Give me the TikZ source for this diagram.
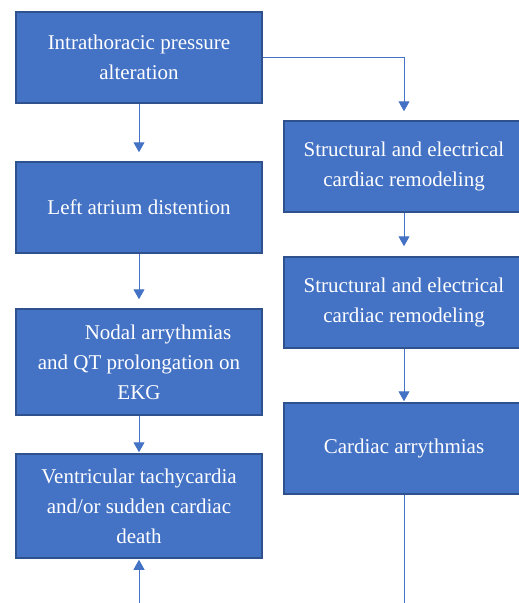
\documentclass[tikz,border=0pt]{standalone}
\usepackage{fontspec}
\setmainfont{Liberation Serif}
\usetikzlibrary{arrows.meta}
\definecolor{boxblue}{HTML}{4472C4}
\definecolor{boxedge}{HTML}{2F528F}

\begin{document}
\begin{tikzpicture}[
      x=1pt, y=-1pt,
      box/.style={rectangle,draw=boxedge,line width=1.5pt,fill=boxblue,text=white,
        minimum width=246pt,minimum height=91pt,inner sep=0pt,align=center,
        font=\fontsize{21}{30}\selectfont},
      rbox/.style={box,minimum width=240pt},
      flow/.style={draw=boxblue,line width=1pt,-{Triangle[width=11pt,length=10pt]}},
      wire/.style={draw=boxblue,line width=1pt}
    ]
    \useasboundingbox (0,0) rectangle (519,603);
    \clip (0,0) rectangle (519,603);
    % Draw the left column.
    \node[box] (press) at (139,57.5) {Intrathoracic pressure\\alteration};
    \node[box] (atrium) at (139,207.5) {Left atrium distention};
    \node[box,minimum height=106pt] (nodal) at (139,362) {\hspace*{38pt}Nodal arrythmias\\and QT prolongation on\\EKG};
    \node[box,minimum height=104pt] (vtach) at (139,506) {Ventricular tachycardia\\and/or sudden cardiac\\death};
    % Draw the right column.
    \node[rbox] (remod) at (404,166.5) {Structural and electrical\\cardiac remodeling};
    \node[rbox] (remodb) at (404,302.5) {Structural and electrical\\cardiac remodeling};
    \node[rbox] (arrh) at (404,448.5) {Cardiac arrythmias};
    % Free ends at the bottom.
    \coordinate (lend) at (139,603);
    \coordinate (rend) at (404,603);
    % Draw the transitions.
    \draw[flow,shorten >=9pt] (press) -- (atrium);
    \draw[flow,shorten >=9pt] (press.east) -| (remod.north);
    \draw[flow,shorten >=9pt] (atrium) -- (nodal);
    \draw[flow,shorten >=1pt] (nodal) -- (vtach);
    \draw[flow,shorten >=10pt] (remod) -- (remodb);
    \draw[flow,shorten >=1pt] (remodb) -- (arrh);
    \draw[wire] (arrh) -- (rend);
    \draw[flow,shorten >=1pt] (lend) -- (vtach);
\end{tikzpicture}
\end{document}
